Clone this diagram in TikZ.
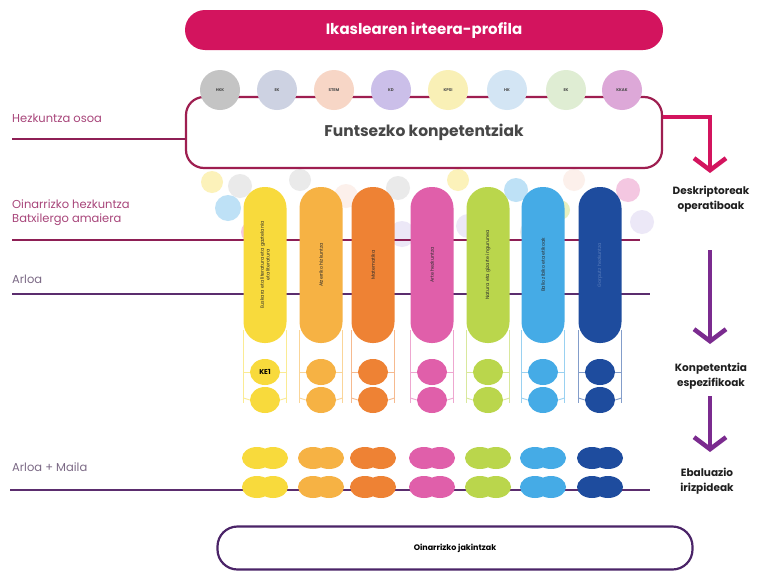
\documentclass[tikz,border=0pt]{standalone}
\usepackage{fontspec}
\setmainfont{Poppins}
\usetikzlibrary{arrows.meta}
\definecolor{bannerc}{HTML}{D3145E}
\definecolor{boxc}{HTML}{9E1E50}
\definecolor{pinkline}{HTML}{8E1F55}
\definecolor{purpline}{HTML}{5B2D6E}
\definecolor{labpink}{HTML}{A8457A}
\definecolor{labgray}{HTML}{7C6A86}
\definecolor{arrpurp}{HTML}{7B2B8F}
\definecolor{botc}{HTML}{4B2468}
\definecolor{cyel}{HTML}{F8DA3C}
\definecolor{clor}{HTML}{F6B244}
\definecolor{cor}{HTML}{EE8234}
\definecolor{cpk}{HTML}{E05FAA}
\definecolor{clm}{HTML}{BAD64C}
\definecolor{clb}{HTML}{45ABE6}
\definecolor{cdb}{HTML}{1E4C9E}
\definecolor{cdbtext}{HTML}{5A7DBB}
\definecolor{ctext}{HTML}{2B2B2B}
\definecolor{ch1}{HTML}{C4C4C4}
\definecolor{ch2}{HTML}{CDD2E2}
\definecolor{ch3}{HTML}{F7D6C6}
\definecolor{ch4}{HTML}{CBBFE9}
\definecolor{ch5}{HTML}{F9F0B6}
\definecolor{ch6}{HTML}{D3E5F4}
\definecolor{ch7}{HTML}{DFEDD3}
\definecolor{ch8}{HTML}{DDA8D8}
\tikzset{
  banner/.style={fill=bannerc, rounded corners=20pt, minimum width=478pt, minimum height=40pt, text=white, font=\bfseries\fontsize{15}{18}\selectfont},
  mainbox/.style={draw=boxc, line width=2.2pt, rounded corners=18pt, minimum width=476pt, minimum height=71pt, text=black!72, font=\bfseries\fontsize{15.5}{19}\selectfont},
  chip/.style={circle, minimum size=40pt, inner sep=0pt, text=black!70, font=\bfseries\fontsize{4}{5}\selectfont},
  leftlab/.style={anchor=west, align=left, inner sep=0pt, font=\fontsize{11.5}{14}\selectfont},
  rightlab/.style={align=center, inner sep=0pt, text=black!88, font=\bfseries\fontsize{10.5}{15}\selectfont},
  colbar/.style={rounded corners=21pt, minimum width=43pt, minimum height=156pt, inner sep=0pt},
  coltext/.style={rotate=90, align=center, inner sep=0pt, font=\fontsize{4.8}{5.8}\selectfont},
  smallc/.style={ellipse, minimum width=30pt, minimum height=26pt, inner sep=0pt},
  blob/.style={ellipse, minimum width=30pt, minimum height=22pt, inner sep=0pt},
  thin/.style={line width=0.9pt},
  marrow/.style={draw=bannerc, line width=4.5pt, -{Straight Barb[length=12pt,width=32pt]}},
  parrow/.style={draw=arrpurp, line width=4.5pt, -{Straight Barb[length=12pt,width=32pt]}},
  hline/.style={line width=2pt},
  botbox/.style={draw=botc, line width=2.2pt, rounded corners=20pt, minimum width=475pt, minimum height=43pt, text=black, font=\bfseries\fontsize{8}{10}\selectfont},
  dot/.style={circle, inner sep=0pt, opacity=0.35}
}
\usetikzlibrary{shapes.geometric}
\begin{document}
\begin{tikzpicture}[x=1pt,y=-1pt]
\useasboundingbox[fill=white] (0,0) rectangle (757,573);

% faint background dots
\foreach \dx/\dy/\ds/\dc in {212/182/22/cyel,240/186/24/ch1,228/208/26/clb,300/180/22/ch1,322/214/26/ch4,346/196/24/ch3,398/188/24/ch1,402/234/26/ch4,458/180/22/cyel,468/226/24/ch4,516/190/24/clb,532/232/24/ch1,574/180/22/ch3,628/190/24/cpk,642/222/24/ch4,252/232/22/cpk,560/210/20/clm,440/205/20/ch5}
  \node[dot, fill=\dc, minimum size=\ds pt] at (\dx,\dy) {};

% banner
\node[banner] (prof) at (424,30) {Ikaslearen irteera-profila};

% main box with chips
\node[mainbox] (funts) at (424,132.5) {Funtsezko konpetentziak};
\foreach \i/\cx/\cc/\ct in {1/220/ch1/HKK,2/277/ch2/EK,3/334/ch3/STEM,4/391/ch4/KD,5/448/ch5/KPSI,6/507/ch6/HK,7/566/ch7/EK,8/622/ch8/KKAK}
  \node[chip, fill=\cc] (chip\i) at (\cx,90) {\ct};

% left labels and lines
\node[leftlab, text=labpink] (lab1) at (12,118) {Hezkuntza osoa};
\coordinate (l1) at (12,139);
\draw[hline, draw=pinkline] (l1) -- (l1 -| funts.west);

\node[leftlab, text=labpink] (lab2) at (12,213) {Oinarrizko hezkuntza\\Batxilergo amaiera};
\coordinate (l2a) at (12,240);
\coordinate (l2b) at (640,240);
\draw[hline, draw=pinkline] (l2a) -- (l2b);

\node[leftlab, text=labgray] (lab3) at (12,279) {Arloa};
\coordinate (l3a) at (12,294);
\coordinate (l3b) at (650,294);
\draw[hline, draw=purpline] (l3a) -- (l3b);

\node[leftlab, text=labgray] (lab4) at (12,467) {Arloa + Maila};
\coordinate (l4a) at (10,490);
\coordinate (l4b) at (650,490);
\draw[hline, draw=purpline] (l4a) -- (l4b);

% right side arrows and labels
\coordinate (r1) at (710,117);
\coordinate (t1) at (710,173);
\draw[marrow] (r1 -| funts.east) -- (r1) -- (t1);
\node[rightlab] (desc) at (711,199) {Deskriptoreak\\operatiboak};
\coordinate (p1s) at (710,250);
\coordinate (p1e) at (710,344);
\draw[parrow] (p1s) -- (p1e);
\node[rightlab] (konp) at (711,376) {Konpetentzia\\espezifikoak};
\coordinate (p2s) at (710,396);
\coordinate (p2e) at (710,452);
\draw[parrow] (p2s) -- (p2e);
\node[rightlab] (ebal) at (707,481) {Ebaluazio\\irizpideak};

% columns
\foreach \i/\cx/\cc/\tc/\ct in {1/265/cyel/ctext/{Euskara eta literatura eta gaztelania\\eta literatura},2/321/clor/ctext/{Atzerriko hizkuntza},3/373/cor/ctext/{Matematika},4/432/cpk/ctext/{Arte hezkuntza},5/488/clm/ctext/{Natura eta gizarte ingurunea},6/543/clb/ctext/{Balio zibiko eta etikoak},7/600/cdb/cdbtext/{Gorputz hezkuntza}}{
  \draw[thin, draw=\cc!55] (\cx-21.5,330) -- (\cx-21.5,403);
  \draw[thin, draw=\cc!55] (\cx+21.5,330) -- (\cx+21.5,403);
  \node[colbar, fill=\cc] (col\i) at (\cx,265) {};
  \node[coltext, text=\tc] (ct\i) at (\cx,265) {\ct};
  \node[smallc, fill=\cc] (sa\i) at (\cx,372) {};
  \node[smallc, fill=\cc] (sb\i) at (\cx,400) {};
  \draw[thin, draw=\cc!55] (\cx-21.5,372) -- (sa\i.west);
  \draw[thin, draw=\cc!55] (\cx+21.5,372) -- (sa\i.east);
  \draw[thin, draw=\cc!55] (\cx-21.5,398) -- (sb\i.west);
  \draw[thin, draw=\cc!55] (\cx+21.5,398) -- (sb\i.east);
  \node[blob, fill=\cc] (ba\i) at (\cx-8,458) {};
  \node[blob, fill=\cc] (bb\i) at (\cx+8,458) {};
  \node[blob, fill=\cc] (bc\i) at (\cx-8,487) {};
  \node[blob, fill=\cc] (bd\i) at (\cx+8,487) {};
}
\node[inner sep=0pt, font=\bfseries\fontsize{7}{8}\selectfont] (ke1) at (sa1) {KE1};

% bottom box
\node[botbox] (jak) at (455,548) {Oinarrizko jakintzak};
\end{tikzpicture}
\end{document}
